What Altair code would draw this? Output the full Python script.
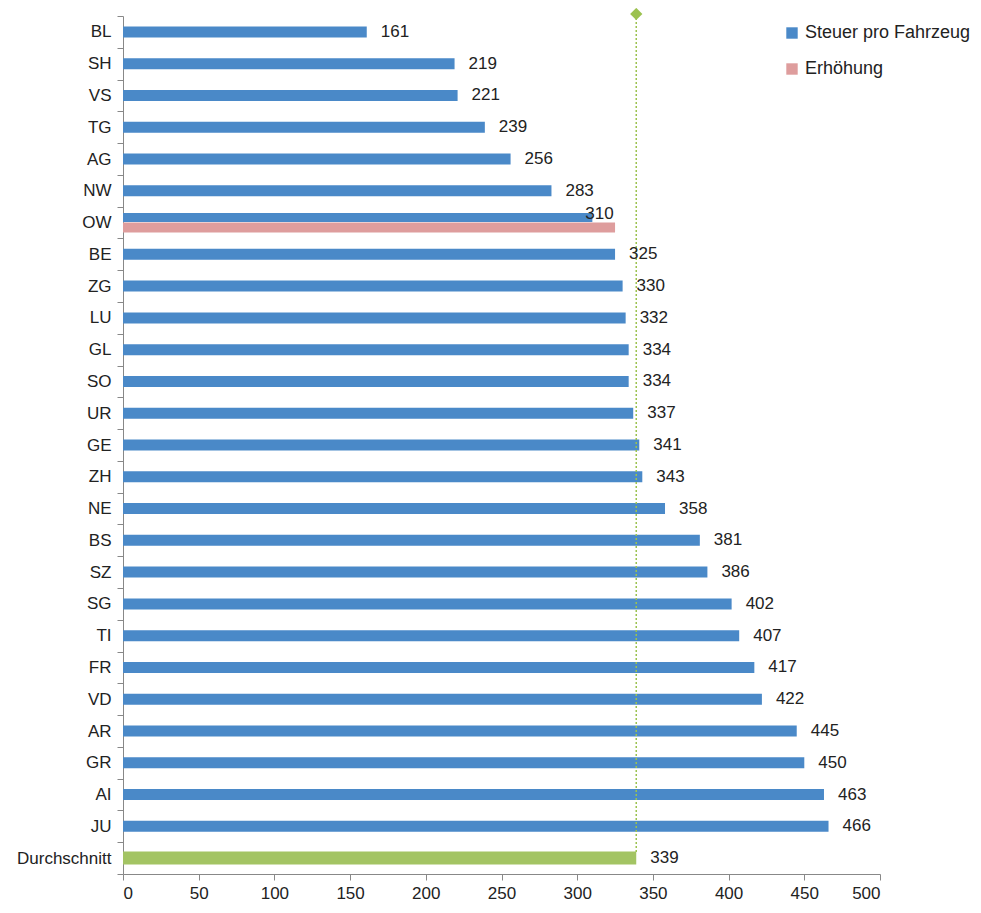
import altair as alt
import pandas as pd

kantone = ["BL", "SH", "VS", "TG", "AG", "NW", "OW", "BE", "ZG", "LU", "GL", "SO", "UR",
           "GE", "ZH", "NE", "BS", "SZ", "SG", "TI", "FR", "VD", "AR", "GR", "AI", "JU"]
steuer = [161, 219, 221, 239, 256, 283, 310, 325, 330, 332, 334, 334, 337,
          341, 343, 358, 381, 386, 402, 407, 417, 422, 445, 450, 463, 466]
erhoehung_kanton = "OW"
erhoehung_wert = 325
durchschnitt = 339

order = kantone + ["Durchschnitt"]
W, H = 757, 858
FONT = "Liberation Sans"

df = pd.DataFrame({"kanton": kantone, "wert": steuer,
                   "serie": "Steuer pro Fahrzeug"})
df_main = df[df.kanton != erhoehung_kanton]
df_ow = df[df.kanton == erhoehung_kanton]
df_erh = pd.DataFrame({"kanton": [erhoehung_kanton], "wert": [erhoehung_wert],
                       "serie": ["Erhöhung"]})
df_avg = pd.DataFrame({"kanton": ["Durchschnitt"], "wert": [durchschnitt]})

xs = alt.Scale(domain=[0, 500])
ys = alt.Scale(domain=order, paddingInner=0, paddingOuter=0)
color = alt.Color("serie:N", scale=alt.Scale(domain=["Steuer pro Fahrzeug", "Erhöhung"],
                                             range=["#4a89c8", "#de9d9d"]),
                  legend=alt.Legend(title=None, orient="none", legendX=660, legendY=8,
                                    symbolType="square", symbolSize=130, labelFontSize=18,
                                    labelFont=FONT, labelColor="#222", rowPadding=18,
                                    symbolStrokeWidth=0, labelLimit=400))

x_enc = alt.X("wert:Q", scale=xs, title=None,
              axis=alt.Axis(values=list(range(0, 501, 50)), grid=False, labelFontSize=17,
                            labelFont=FONT, labelColor="#222", domainColor="#888",
                            tickColor="#888", tickSize=6, labelPadding=5))
y_enc = alt.Y("kanton:N", scale=ys, sort=order, title=None,
              axis=alt.Axis(labelFontSize=17, labelFont=FONT, labelColor="#222",
                            domainColor="#888", tickColor="#888", tickSize=6,
                            labelPadding=6, tickBand="extent"))

bars = alt.Chart(df_main).mark_bar(size=11).encode(x=x_enc, y=y_enc, color=color)
ow_bar = alt.Chart(df_ow).mark_bar(size=9, yOffset=-5).encode(x="wert:Q", y=alt.Y("kanton:N", sort=order), color=color)
erh_bar = alt.Chart(df_erh).mark_bar(size=10, yOffset=5).encode(x="wert:Q", y=alt.Y("kanton:N", sort=order), color=color)
avg_bar = alt.Chart(df_avg).mark_bar(size=13, color="#a3c463").encode(x="wert:Q", y=alt.Y("kanton:N", sort=order))

txt_style = dict(align="left", baseline="middle", fontSize=17, font=FONT, color="#222")
labels = alt.Chart(df_main).mark_text(dx=14, **txt_style).encode(
    x="wert:Q", y=alt.Y("kanton:N", sort=order), text="wert:Q")
ow_label = alt.Chart(df_ow).mark_text(dx=-7, dy=-9, **txt_style).encode(
    x="wert:Q", y=alt.Y("kanton:N", sort=order), text="wert:Q")
avg_label = alt.Chart(df_avg).mark_text(dx=14, **txt_style).encode(
    x="wert:Q", y=alt.Y("kanton:N", sort=order), text="wert:Q")

rule = alt.Chart(df_avg).mark_rule(color="#9cc24f", strokeDash=[2, 2], strokeWidth=1.5).encode(
    x="wert:Q", y=alt.value(-2), y2=alt.value(H - 20))
diamond = alt.Chart(df_avg).mark_point(shape="diamond", filled=True, size=150,
                                       color="#9cc24f", opacity=1).encode(
    x="wert:Q", y=alt.value(-2))

chart = (bars + ow_bar + erh_bar + avg_bar + rule + labels + ow_label + avg_label + diamond).properties(
    width=W, height=H, autosize="none", background="white",
    padding={"left": 115, "top": 8, "right": 93, "bottom": 31},
).configure_view(stroke=None, strokeWidth=0)

chart.save("out.html", embed_options={"renderer": "svg", "actions": False})
